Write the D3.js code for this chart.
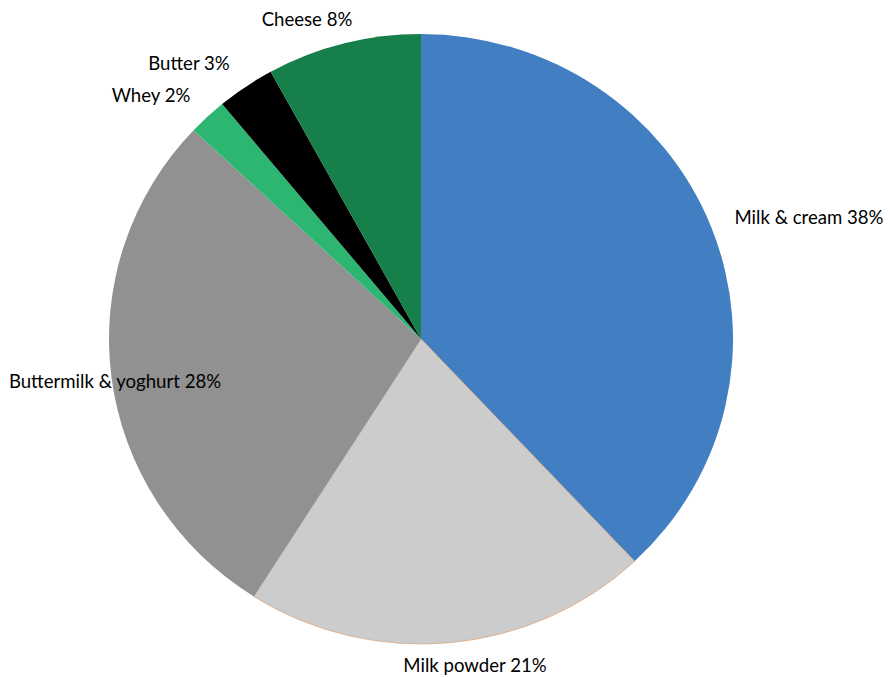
<!DOCTYPE html>
<html>
<head>
<meta charset="utf-8">
<script src="https://cdn.jsdelivr.net/npm/d3@7"></script>
<style>
  body { margin: 0; background: #fff; }
  text { font-family: Lato, "Open Sans", sans-serif; font-size: 18.6px; fill: #000; }
</style>
</head>
<body>
<svg id="chart" width="890" height="677"></svg>
<script>
// data, clockwise from 12 o'clock
var categories = ["Milk & cream", "Milk powder", "Buttermilk & yoghurt", "Whey", "Butter", "Cheese"];
var shares = [38, 21, 28, 2, 3, 8];
var colors = ["#417ec2", "#cccccc", "#909190", "#2db672", "#000000", "#17804a"];

// label centres, as offsets from the pie centre (Excel puts them a bit oddly)
var labelOffsets = [[388, -122], [54, 326], [-306, 42], [-270, -244], [-232, -276], [-114, -320]];

var svg = d3.select("#chart");
var cx = 421, cy = 339;
var ry = 305, rx = 312;

var data = categories.map(function(c, i) { return { name: c, value: shares[i], color: colors[i] }; });

var pie = d3.pie().sort(null).value(function(d) { return d.value; });
var arc = d3.arc().innerRadius(0).outerRadius(ry);

// slightly squashed pie, like the original
var g = svg.append("g")
    .attr("transform", "translate(" + cx + "," + cy + ") scale(" + (rx / ry) + ",1)");

g.selectAll("path")
    .data(pie(data))
    .enter()
    .append("path")
    .attr("d", arc)
    .attr("fill", function(d) { return d.data.color; })
    .attr("stroke", function(d) { return d.data.name == "Milk powder" ? "#e0a87c" : "none"; })
    .attr("stroke-width", 0.8)
    .attr("vector-effect", "non-scaling-stroke");

svg.append("g")
    .selectAll("text")
    .data(data)
    .enter()
    .append("text")
    .attr("text-anchor", "middle")
    .attr("dominant-baseline", "central")
    .attr("x", function(d, i) { return cx + labelOffsets[i][0]; })
    .attr("y", function(d, i) { return cy + labelOffsets[i][1]; })
    .text(function(d) { return d.name + " " + d.value + "%"; });
</script>
</body>
</html>
